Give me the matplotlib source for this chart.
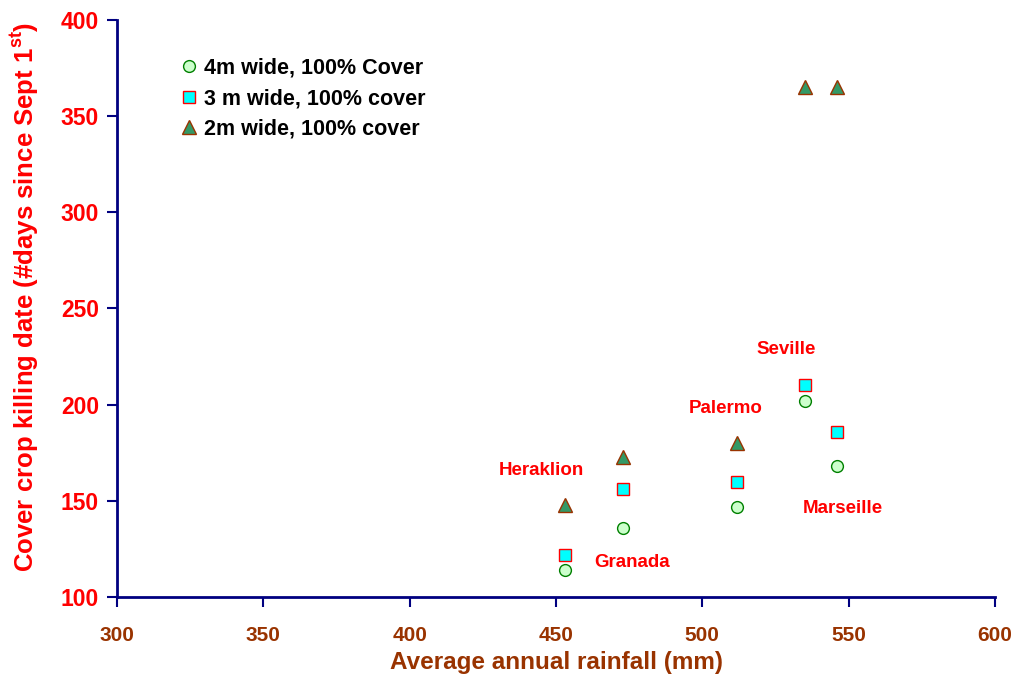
import matplotlib
matplotlib.use("Agg")
import matplotlib.pyplot as plt

plt.rcParams['font.family'] = ['Liberation Sans', 'DejaVu Sans']
plt.rcParams['mathtext.fontset'] = 'custom'
plt.rcParams['mathtext.rm'] = 'Liberation Sans:bold'
plt.rcParams['mathtext.bf'] = 'Liberation Sans:bold'

cities = ["Heraklion", "Granada", "Palermo", "Seville", "Marseille"]
rainfall = [453, 473, 512, 535, 546]
cover_4m = [114, 136, 147, 202, 168]
cover_3m = [122, 156, 160, 210, 186]
cover_2m = [148, 173, 180, 365, 365]
label_x = [445, 476, 508, 528.5, 548]
label_y = [165.5, 118, 198, 228.5, 146]

xticks = [300, 350, 400, 450, 500, 550, 600]
yticks = [100, 150, 200, 250, 300, 350, 400]

fig = plt.figure(figsize=(10.2, 6.77), dpi=100)
ax = fig.add_axes([0.1147, 0.1182, 0.8608, 0.8523])

ax.plot(rainfall, cover_4m, 'o', ms=8.5, mfc='#CCFFCC', mec='#008000', mew=1.0,
        label='4m wide, 100% Cover', zorder=3)
ax.plot(rainfall, cover_3m, 's', ms=8.5, mfc='#00FFFF', mec='#FF0000', mew=1.0,
        label='3 m wide, 100% cover', zorder=3)
ax.plot(rainfall, cover_2m, '^', ms=9.5, mfc='#339966', mec='#993300', mew=1.0,
        label='2m wide, 100% cover', zorder=3)

for name, lx, ly in zip(cities, label_x, label_y):
    ax.text(lx, ly, name, color='#FF0000', fontsize=13.5, fontweight='bold',
            ha='center', va='center')

ax.set_xlim(300, 600)
ax.set_ylim(100, 400)
ax.set_xticks(xticks)
ax.set_yticks(yticks)
ax.set_xticklabels([str(v) for v in xticks], color='#993300', fontsize=15, fontweight='bold')
ax.set_yticklabels([str(v) for v in yticks], color='#FF0000', fontsize=16.5, fontweight='bold')
ax.tick_params(axis='both', direction='out', length=7, width=1.5, color='#000080')
ax.tick_params(axis='x', pad=14)
ax.tick_params(axis='y', pad=6)

for s in ['top', 'right']:
    ax.spines[s].set_visible(False)
for s in ['left', 'bottom']:
    ax.spines[s].set_color('#000080')
    ax.spines[s].set_linewidth(2)

ax.set_xlabel('Average annual rainfall (mm)', color='#993300', fontsize=17.5,
              fontweight='bold', labelpad=4)
ax.set_ylabel(r'Cover crop killing date (#days since Sept 1$^{\mathbf{st}}$)',
              color='#FF0000', fontsize=18.5, fontweight='bold')
ax.yaxis.set_label_coords(-0.087, 0.52)

leg = ax.legend(loc='upper left', bbox_to_anchor=(0.06, 0.95), frameon=False,
                prop={'weight': 'bold', 'size': 15.5}, handletextpad=0.2,
                labelspacing=0.45, handlelength=1.0, borderaxespad=0)

fig.savefig('out.png', dpi=100)
